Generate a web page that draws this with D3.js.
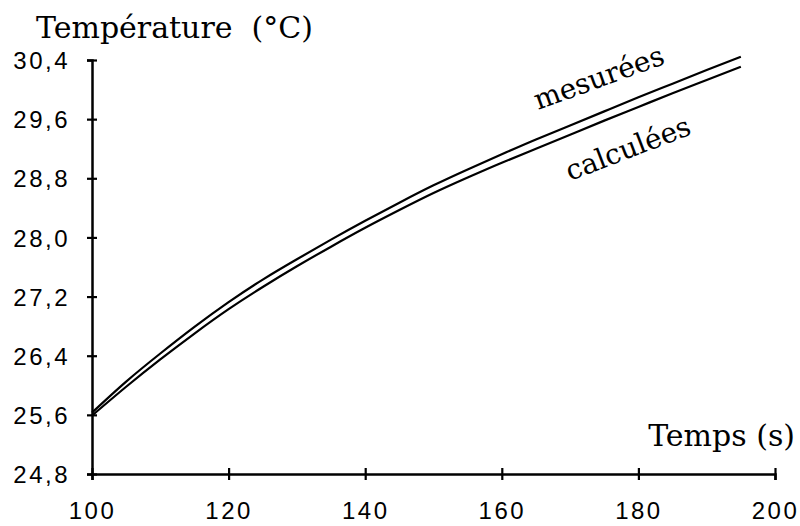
<!DOCTYPE html>
<html><head><meta charset="utf-8">
<script src="https://cdn.jsdelivr.net/npm/d3@7"></script>
<style>
html,body{margin:0;padding:0;background:#fff;}
svg{display:block;}
.tick text{font-family:"Liberation Sans",Arial,sans-serif;font-size:24px;letter-spacing:2.5px;fill:#000;}
.ser{font-family:"DejaVu Serif","Liberation Serif",serif;fill:#000;}
</style></head>
<body>
<svg id="c" width="800" height="526"></svg>
<script>
const time = [100,105,110,115,120,125,130,135,140,145,150,155,160,165,170,175,180,185,190,195];
const mesurees = [25.63,26.05,26.43,26.79,27.125,27.43,27.705,27.97,28.225,28.47,28.705,28.92,29.125,29.325,29.515,29.705,29.895,30.08,30.265,30.445];
const calculees = [25.59,25.98,26.35,26.70,27.03,27.33,27.61,27.875,28.13,28.37,28.60,28.81,29.01,29.20,29.39,29.58,29.765,29.95,30.13,30.31];
const xTicks = [100,120,140,160,180,200];
const yTicks = [24.8,25.6,26.4,27.2,28.0,28.8,29.6,30.4];
const yTickLabels = ["24,8","25,6","26,4","27,2","28,0","28,8","29,6","30,4"];

const svg = d3.select("#c");
const x = d3.scaleLinear().domain([100,200]).range([92,775]);
const y = d3.scaleLinear().domain([24.8,30.4]).range([474,60]);

// y axis
const ya = svg.append("g").attr("transform","translate(92,0)")
  .call(d3.axisLeft(y).tickValues(yTicks).tickSizeOuter(0).tickSize(5).tickPadding(17)
    .tickFormat((d,i)=>yTickLabels[i]));
ya.selectAll(".tick line").attr("x1",-5).attr("x2",5).attr("stroke","#000").attr("stroke-width",2.2);
ya.select(".domain").attr("stroke","#000").attr("stroke-width",2.5);
ya.selectAll(".tick text").attr("dy","0.36em");

// x axis
const xa = svg.append("g").attr("transform","translate(0,474)")
  .call(d3.axisBottom(x).tickValues(xTicks).tickSizeOuter(0).tickSize(6).tickPadding(22)
    .tickFormat(d3.format("d")));
xa.selectAll(".tick line").attr("y1",-6).attr("y2",6).attr("stroke","#000").attr("stroke-width",2.2);
xa.select(".domain").attr("stroke","#000").attr("stroke-width",2.5);
xa.selectAll(".tick text").attr("dy","0.71em");

// lines
const line = (arr)=>d3.line().x((d,i)=>x(time[i])).y(d=>y(d)).curve(d3.curveNatural)(arr);
svg.append("path").attr("d",line(mesurees)).attr("fill","none").attr("stroke","#000").attr("stroke-width",2.2);
svg.append("path").attr("d",line(calculees)).attr("fill","none").attr("stroke","#000").attr("stroke-width",2.2);

// titles
svg.append("text").attr("class","ser").attr("x",36).attr("y",38).attr("font-size",30)
  .attr("xml:space","preserve").text("Température  (°C)");
svg.append("text").attr("class","ser").attr("x",795).attr("y",446).attr("font-size",30)
  .attr("text-anchor","end").text("Temps (s)");
svg.append("text").attr("class","ser").attr("font-size",28)
  .attr("transform","translate(538,110) rotate(-20)").text("mesurées");
svg.append("text").attr("class","ser").attr("font-size",28)
  .attr("transform","translate(570,181) rotate(-21)").text("calculées");
</script>
</body></html>
